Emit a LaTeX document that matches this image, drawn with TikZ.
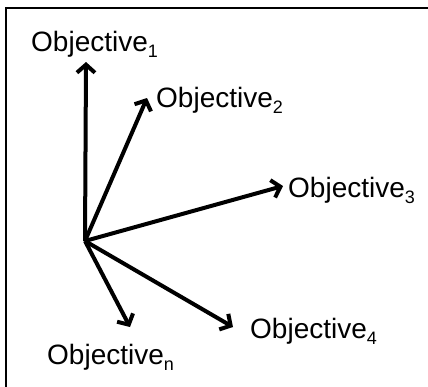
\documentclass[tikz,border=0pt]{standalone}
\usepackage{fontspec}
\setmainfont{Liberation Sans}
\usetikzlibrary{arrows.meta}
\newcommand{\objsub}[1]{\raisebox{-6pt}{\fontsize{18}{20}\selectfont #1}}
\begin{document}
\begin{tikzpicture}[x=1pt,y=-1pt,
  vec/.style={line width=4pt,-{Straight Barb[length=8pt,width=18pt,line width=4pt]}},
  lbl/.style={anchor=base west,inner sep=0pt,font=\fontsize{28}{32}\selectfont}]
\useasboundingbox (0,0) rectangle (428,386);
\draw[line width=2pt] (6,400) -- (6,8) -- (440,8);
\coordinate (o) at (85,241);
\coordinate (t1) at (86,62);
\coordinate (t2) at (147,98);
\coordinate (t3) at (283,186);
\coordinate (t4) at (233,327);
\coordinate (tn) at (130,327);
\draw[vec] (o) -- (t1);
\draw[vec] (o) -- (t2);
\draw[vec] (o) -- (t3);
\draw[vec] (o) -- (t4);
\draw[vec] (o) -- (tn);
\node[lbl] (l1) at (31,51) {Objective\objsub{1}};
\node[lbl] (l2) at (156,107) {Objective\objsub{2}};
\node[lbl] (l3) at (288,197) {Objective\objsub{3}};
\node[lbl] (l4) at (250,338) {Objective\objsub{4}};
\node[lbl] (ln) at (47,364) {Objective\objsub{n}};
\end{tikzpicture}
\end{document}
